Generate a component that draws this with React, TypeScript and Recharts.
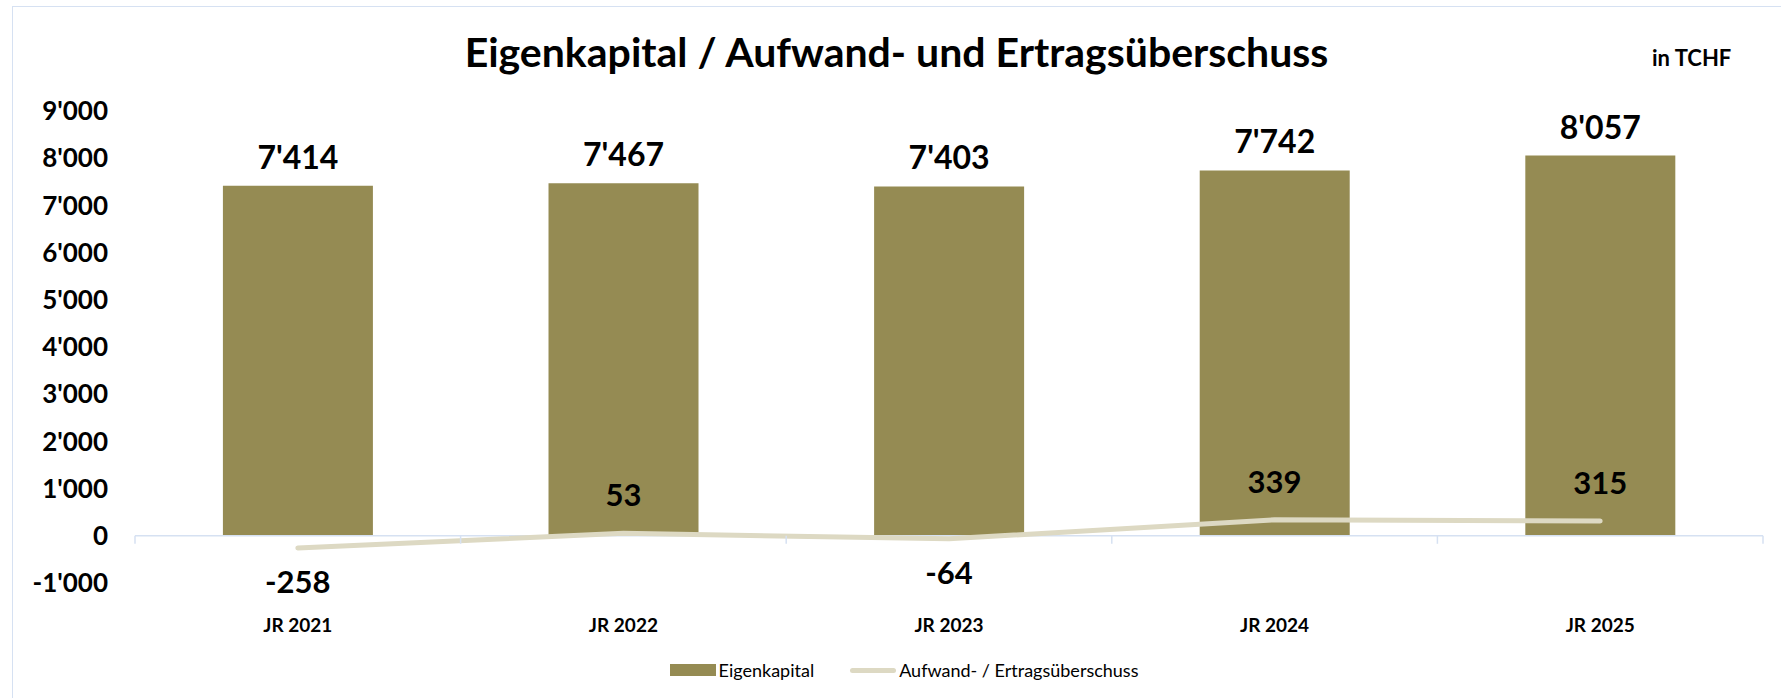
import { ComposedChart, Bar, Line, XAxis, YAxis, ReferenceLine, LabelList } from 'recharts';

const categories = ['JR 2021', 'JR 2022', 'JR 2023', 'JR 2024', 'JR 2025'];
const eigenkapital = [7414, 7467, 7403, 7742, 8057];
const ueberschuss = [-258, 53, -64, 339, 315];
const yTicks = [-1000, 0, 1000, 2000, 3000, 4000, 5000, 6000, 7000, 8000, 9000];

const data = categories.map((name, i) => ({
  name,
  eigenkapital: eigenkapital[i],
  ueberschuss: ueberschuss[i],
}));

const FONT = 'Lato, "Open Sans", sans-serif';
const BAR_COLOR = '#958B53';
const LINE_COLOR = '#DDD9C3';
const AXIS_COLOR = '#D6E1F2';

const W = 1781;
const H = 698;
const PLOT_LEFT = 135;
const PLOT_RIGHT = 1763;
const PLOT_TOP = 111;
const PLOT_BOTTOM = 583;
const Y_MIN = -1000;
const Y_MAX = 9000;

const fmt = (v: number) => {
  const s = Math.abs(v).toString().replace(/\B(?=(\d{3})+(?!\d))/g, "'");
  return v < 0 ? '-' + s : s;
};

// decoration only: where the zero line sits, for the category tick marks
const zeroY = PLOT_TOP + ((Y_MAX - 0) / (Y_MAX - Y_MIN)) * (PLOT_BOTTOM - PLOT_TOP);
const band = (PLOT_RIGHT - PLOT_LEFT) / categories.length;

function XTick(props: any) {
  const { x, y, payload, index } = props;
  return (
    <g>
      <line x1={x - band / 2} x2={x - band / 2} y1={zeroY} y2={zeroY + 8} stroke={AXIS_COLOR} strokeWidth={1.5} />
      {index === categories.length - 1 && (
        <line x1={x + band / 2} x2={x + band / 2} y1={zeroY} y2={zeroY + 8} stroke={AXIS_COLOR} strokeWidth={1.5} />
      )}
      <text x={x} y={y + 49} textAnchor="middle" fontFamily={FONT} fontWeight={700} fontSize={19} fill="#000">
        {payload.value}
      </text>
    </g>
  );
}

function LineLabel(props: any) {
  const { x, y, value } = props;
  const dy = value < 0 ? 45 : -27;
  return (
    <text x={x} y={y + dy} textAnchor="middle" fontFamily={FONT} fontWeight={700} fontSize={31} fill="#000">
      {fmt(value)}
    </text>
  );
}

function LegendBox() {
  return (
    <div
      style={{
        position: 'absolute',
        top: 659,
        left: 0,
        width: 1808,
        display: 'flex',
        justifyContent: 'center',
        alignItems: 'center',
        fontFamily: FONT,
        fontSize: 18,
        color: '#000',
        gap: 36,
      }}
    >
      <div style={{ display: 'flex', alignItems: 'center' }}>
        <span style={{ display: 'inline-block', width: 46, height: 12, background: BAR_COLOR, marginRight: 3 }} />
        <span>Eigenkapital</span>
      </div>
      <div style={{ display: 'flex', alignItems: 'center' }}>
        <span style={{ display: 'inline-block', width: 46, height: 5, borderRadius: 3, background: LINE_COLOR, marginRight: 3 }} />
        <span>Aufwand- / Ertragsüberschuss</span>
      </div>
    </div>
  );
}

export default function App() {
  return (
    <div style={{ position: 'absolute', left: 0, top: 0, width: W, height: H, overflow: 'hidden', background: '#fff' }}>
      <div
        style={{
          position: 'absolute',
          left: 12,
          top: 6,
          width: W,
          height: H,
          borderTop: `1.5px solid ${AXIS_COLOR}`,
          borderLeft: `1.5px solid ${AXIS_COLOR}`,
        }}
      />
      <div
        style={{
          position: 'absolute',
          left: 0,
          width: 1793,
          top: 27,
          textAlign: 'center',
          fontFamily: FONT,
          fontWeight: 700,
          fontSize: 41,
          color: '#000',
        }}
      >
        Eigenkapital / Aufwand- und Ertragsüberschuss
      </div>
      <div
        style={{
          position: 'absolute',
          left: 1652,
          top: 44,
          fontFamily: FONT,
          fontWeight: 700,
          fontSize: 22,
          color: '#000',
        }}
      >
        in TCHF
      </div>
      <div style={{ position: 'absolute', left: 0, top: 0 }}>
        <ComposedChart
          width={W}
          height={H}
          data={data}
          margin={{ top: PLOT_TOP, right: W - PLOT_RIGHT, bottom: 0, left: 0 }}
          barCategoryGap="27%"
        >
          <XAxis
            dataKey="name"
            height={H - PLOT_BOTTOM}
            axisLine={false}
            tickLine={false}
            tickSize={0}
            tickMargin={0}
            tick={<XTick />}
            interval={0}
          />
          <YAxis
            width={PLOT_LEFT}
            domain={[Y_MIN, Y_MAX]}
            ticks={yTicks}
            interval={0}
            axisLine={false}
            tickLine={false}
            tickSize={0}
            tickMargin={27}
            tickFormatter={fmt}
            tick={{ fontFamily: FONT, fontWeight: 700, fontSize: 26, fill: '#000' }}
          />
          <Bar dataKey="eigenkapital" fill={BAR_COLOR} isAnimationActive={false}>
            <LabelList
              dataKey="eigenkapital"
              position="top"
              offset={17}
              formatter={(v: any) => fmt(v as number)}
              style={{ fontFamily: FONT, fontWeight: 700, fontSize: 32, fill: '#000' }}
            />
          </Bar>
          <ReferenceLine y={0} stroke={AXIS_COLOR} strokeWidth={1.5} />
          <Line
            type="linear"
            dataKey="ueberschuss"
            stroke={LINE_COLOR}
            strokeWidth={5}
            strokeLinecap="round"
            strokeLinejoin="round"
            dot={false}
            isAnimationActive={false}
          >
            <LabelList dataKey="ueberschuss" content={<LineLabel />} />
          </Line>
        </ComposedChart>
      </div>
      <LegendBox />
    </div>
  );
}
